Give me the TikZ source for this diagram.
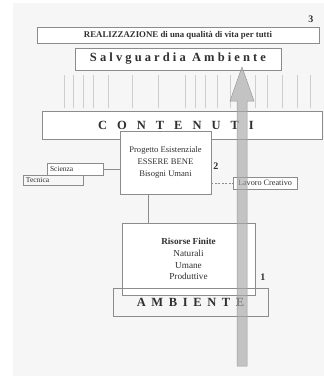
\documentclass[tikz,border=0pt]{standalone}
\usepackage{fontspec}
\setmainfont{Liberation Serif}
\definecolor{bg}{HTML}{F6F6F6}
\definecolor{edge}{HTML}{8C8C8C}
\definecolor{ink}{HTML}{303030}
\definecolor{tick}{HTML}{CDCDCD}
\definecolor{arrfill}{HTML}{A8A8A8}
\definecolor{arredge}{HTML}{9A9A9A}
\tikzset{
  box/.style={draw=edge, line width=0.6pt, fill=white, inner sep=0pt, text=ink, font=\fontsize{8}{9.5}\selectfont},
  small/.style={box, font=\fontsize{7.5}{8}\selectfont},
  numlabel/.style={text=ink, font=\bfseries\fontsize{10}{12}\selectfont, inner sep=0pt},
  tickline/.style={draw=tick, line width=0.5pt},
  conn/.style={draw=edge, line width=0.5pt}
}
\begin{document}
\begin{tikzpicture}[x=1pt, y=-1pt]
\useasboundingbox (0,0) rectangle (324,376);
\fill[bg] (13,3) rectangle (324,376);
% ruler-like vertical lines
\foreach \xx in {64,73,83,93,108,132,158,185,195,205,217,230,255,267,282,297,310}
  \draw[tickline] (\xx,75) -- (\xx,108);
% boxes
\node[box, minimum width=282pt, minimum height=16pt, font=\bfseries\fontsize{8.8}{10}\selectfont] (real) at (178,35) {REALIZZAZIONE di una qualità di vita per tutti};
\node[numlabel] (n3) at (311,19) {3};
\node[box, minimum width=206pt, minimum height=22pt, font=\bfseries\fontsize{12.5}{14}\selectfont\addfontfeature{LetterSpace=25}] (salv) at (178,59) {Salvguardia Ambiente};
\node[box, minimum width=280pt, minimum height=28pt, font=\bfseries\fontsize{12.5}{14}\selectfont\addfontfeature{LetterSpace=80}] (cont) at (182,125) {\hspace*{-12pt}CONTENUTI};
\node[box, minimum width=91pt, minimum height=63pt, align=center, font=\fontsize{8.6}{11.8}\selectfont] (prog) at (165.5,162.5) {Progetto Esistenziale\\ESSERE BENE\\Bisogni Umani};
\node[numlabel] (n2) at (216,166) {2};
\node[small, minimum width=56pt, minimum height=12pt, text width=50pt, align=left, inner xsep=3pt] (sci) at (75,169) {Scienza};
\node[small, minimum width=60pt, minimum height=10pt, text width=54pt, align=left, inner xsep=3pt, fill=none] (tec) at (53,180) {Tecnica};
\node[small, minimum width=64pt, minimum height=12pt, font=\fontsize{8.2}{9}\selectfont] (lav) at (265,183) {Lavoro Creativo};
\node[box, minimum width=133pt, minimum height=72pt, align=center, font=\fontsize{9.2}{11.8}\selectfont] (ris) at (188.5,259) {\textbf{Risorse Finite}\\Naturali\\Umane\\Produttive};
\node[numlabel] (n1) at (263,277) {1};
\node[box, minimum width=155pt, minimum height=28pt, fill=none, font=\bfseries\fontsize{12.5}{14}\selectfont\addfontfeature{LetterSpace=45}] (amb) at (190.5,302) {AMBIENTE};
% connectors
\draw[conn] (sci.east) -- (sci.east -| prog.west);
\draw[conn, dashed, dash pattern=on 2pt off 1.5pt] (prog.east |- lav.west) -- (lav.west);
\draw[conn] ([xshift=-17.5pt]prog.south) -- ([xshift=-17.5pt]prog.south |- ris.north);
% big arrow
\coordinate (tip) at (242,67);
\coordinate (tail) at (242,366);
\filldraw[fill=arrfill, fill opacity=0.65, draw=arredge, line width=0.5pt]
  ([xshift=-5pt]tail) -- ([xshift=-5pt]tail |- 0,101) -- ([xshift=-12pt]tail |- 0,101) -- (tip)
  -- ([xshift=12pt]tail |- 0,101) -- ([xshift=5pt]tail |- 0,101) -- ([xshift=5pt]tail) -- cycle;
\end{tikzpicture}
\end{document}
